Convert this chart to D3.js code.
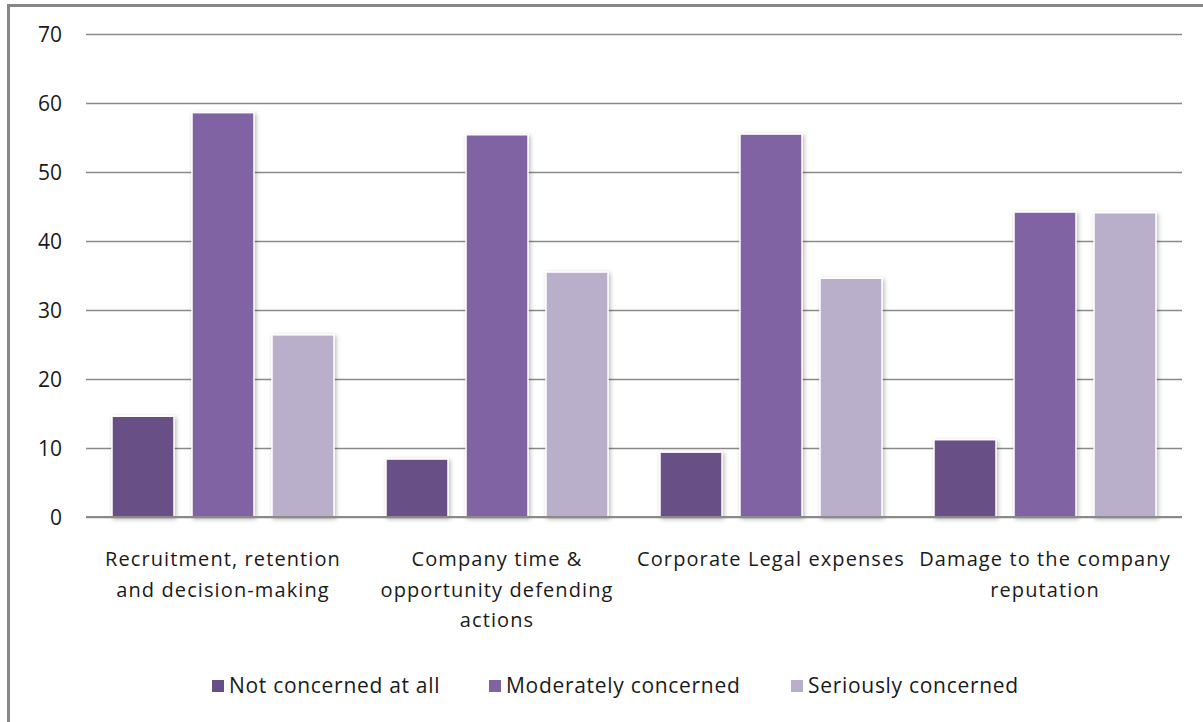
<!DOCTYPE html>
<html>
<head>
<meta charset="utf-8">
<script src="https://cdn.jsdelivr.net/npm/d3@7"></script>
<style>
  html, body { margin: 0; padding: 0; background: #fff; }
  svg { display: block; }
  text { font-family: "Open Sans", "DejaVu Sans", sans-serif; fill: #1a1a1a; }
</style>
</head>
<body>
<svg id="chart" width="1203" height="722"></svg>
<script>
// Concern levels by area of impact (percent of respondents)
const categories = [
  ["Recruitment, retention", "and decision-making"],
  ["Company time &", "opportunity defending", "actions"],
  ["Corporate Legal expenses"],
  ["Damage to the company", "reputation"]
];
const seriesNames = ["Not concerned at all", "Moderately concerned", "Seriously concerned"];
const notConcerned = [14.6, 8.4, 9.4, 11.2];
const moderatelyConcerned = [58.6, 55.4, 55.5, 44.2];
const seriouslyConcerned = [26.4, 35.5, 34.6, 44.1];
const yTicks = [0, 10, 20, 30, 40, 50, 60, 70];
const colors = ["#674f86", "#8064a2", "#b9afca"];

const seriesValues = [notConcerned, moderatelyConcerned, seriouslyConcerned];
const rows = categories.map((c, i) => ({
  key: i,
  label: c,
  values: seriesNames.map((s, j) => ({ series: j, value: seriesValues[j][i] }))
}));

const svg = d3.select("#chart");

// Frame edges
svg.append("line").attr("x1", 8.5).attr("x2", 8.5).attr("y1", 5).attr("y2", 722)
  .attr("stroke", "#878787").attr("stroke-width", 3);
svg.append("line").attr("x1", 7).attr("x2", 1203).attr("y1", 5.5).attr("y2", 5.5)
  .attr("stroke", "#878787").attr("stroke-width", 3);

const plot = { left: 86, right: 1182, top: 34, bottom: 517 };

const x0 = d3.scaleBand().domain(rows.map(r => r.key))
  .range([plot.left, plot.right]).paddingInner(0).paddingOuter(0);
const x1 = d3.scaleBand().domain(d3.range(seriesNames.length))
  .range([0, x0.bandwidth()]).paddingInner(0.225).paddingOuter(0.325);
const y = d3.scaleLinear().domain([0, 70]).range([plot.bottom, plot.top]);

// Soft shadow behind bars
const defs = svg.append("defs");
const f = defs.append("filter").attr("id", "barShadow")
  .attr("x", "-20%").attr("y", "-10%").attr("width", "140%").attr("height", "120%");
f.append("feDropShadow").attr("dx", 1.5).attr("dy", 1.5).attr("stdDeviation", 2.2)
  .attr("flood-color", "#000").attr("flood-opacity", 0.28);

// Gridlines and y labels
const yAxis = d3.axisLeft(y).tickValues(yTicks)
  .tickSize(-(plot.right - plot.left)).tickPadding(24).tickFormat(d3.format("d"));
const gy = svg.append("g").attr("transform", `translate(${plot.left},0)`).call(yAxis);
gy.select(".domain").remove();
gy.selectAll(".tick line").attr("stroke", "#8a8a8a").attr("stroke-width", 1.3);
gy.selectAll(".tick text").attr("font-size", 21).attr("fill", "#1a1a1a")
  .attr("font-family", "'Open Sans', sans-serif").attr("dy", "0.34em");

// Bars
const groups = svg.append("g").selectAll("g").data(rows).join("g")
  .attr("transform", d => `translate(${x0(d.key)},0)`);
groups.selectAll("rect").data(d => d.values).join("rect")
  .attr("x", d => x1(d.series))
  .attr("width", x1.bandwidth())
  .attr("y", d => y(d.value))
  .attr("height", d => y(0) - y(d.value))
  .attr("fill", d => colors[d.series])
  .attr("stroke", "#fff").attr("stroke-width", 1.5)
  .attr("filter", "url(#barShadow)");

// Baseline
svg.append("line").attr("x1", plot.left).attr("x2", plot.right)
  .attr("y1", y(0)).attr("y2", y(0))
  .attr("stroke", "#8a8a8a").attr("stroke-width", 2.2);

// Category labels
const labels = svg.append("g").selectAll("text").data(rows).join("text")
  .attr("x", d => x0(d.key) + x0.bandwidth() / 2)
  .attr("y", 566)
  .attr("text-anchor", "middle")
  .attr("font-size", 20)
  .attr("letter-spacing", 1.1);
labels.selectAll("tspan").data(d => d.label).join("tspan")
  .attr("x", function() { return d3.select(this.parentNode).attr("x"); })
  .attr("dy", (d, i) => i === 0 ? 0 : 30.5)
  .text(d => d);

// Legend
const legendX = [212, 489, 791];
const legend = svg.append("g").selectAll("g").data(seriesNames).join("g")
  .attr("transform", (d, i) => `translate(${legendX[i]},680)`);
legend.append("rect").attr("width", 12).attr("height", 12)
  .attr("fill", (d, i) => colors[i]);
legend.append("text").attr("x", 17).attr("y", 13)
  .attr("font-size", 21).attr("letter-spacing", 0.7)
  .text(d => d);
</script>
</body>
</html>
